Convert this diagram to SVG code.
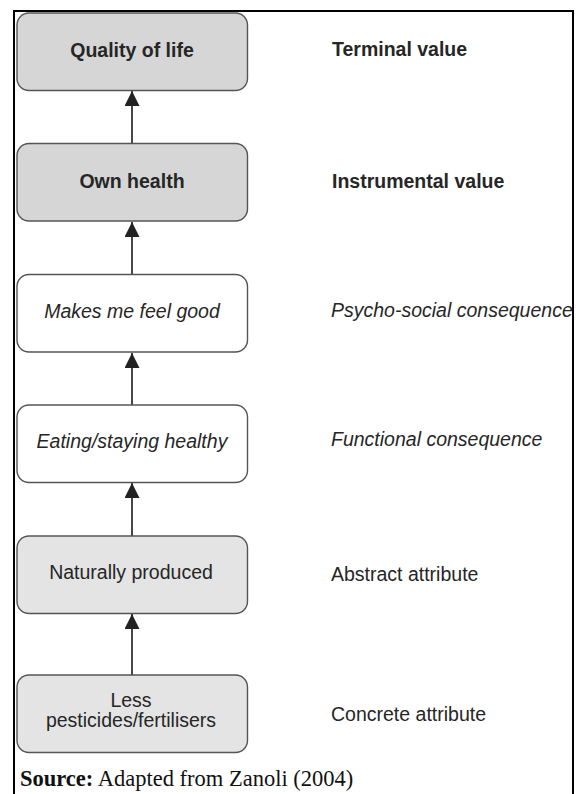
<svg xmlns="http://www.w3.org/2000/svg" width="576" height="794" viewBox="0 0 576 794">
  <style>
    .frame { fill: none; stroke: #000; stroke-width: 2; }
    .box { stroke: #555; stroke-width: 1.4; }
    .dark { fill: #d6d6d6; }
    .light { fill: #e4e4e4; }
    .white { fill: #fff; }
    .lbl { font-family: "Liberation Sans", Arial, sans-serif; font-size: 19.5px; fill: #262626; }
    .mid { text-anchor: middle; }
    .b { font-weight: bold; }
    .i { font-style: italic; }
    .edge { stroke: #333; stroke-width: 1.8; fill: none; marker-end: url(#head); }
    .src { font-family: "Liberation Serif", "Times New Roman", serif; font-size: 22.5px; fill: #111; }
  </style>
  <defs>
    <marker id="head" markerUnits="userSpaceOnUse" markerWidth="16" markerHeight="15" refX="15" refY="7.5" orient="auto">
      <path d="M0,0 L15,7.5 L0,15 Z" fill="#222"/>
    </marker>
  </defs>

  <rect width="576" height="794" fill="#fff"/>
  <!-- page frame -->
  <path class="frame" d="M14,794 V11 H573 V794"/>

  <!-- connectors -->
  <g id="connectors">
    <line class="edge" x1="132" y1="143" x2="132" y2="91"/>
    <line class="edge" x1="132" y1="274" x2="132" y2="222"/>
    <line class="edge" x1="132" y1="405" x2="132" y2="353"/>
    <line class="edge" x1="132" y1="536" x2="132" y2="483"/>
    <line class="edge" x1="132" y1="676" x2="132" y2="614"/>
  </g>

  <g id="quality-of-life">
    <rect class="box dark" x="17" y="13" width="230.5" height="77.5" rx="12"/>
    <text class="lbl b mid" x="132" y="57">Quality of life</text>
  </g>
  <g id="own-health">
    <rect class="box dark" x="17" y="143.5" width="230.5" height="77.5" rx="12"/>
    <text class="lbl b mid" x="132" y="188">Own health</text>
  </g>
  <g id="feel-good">
    <rect class="box white" x="17" y="274.5" width="230.5" height="77.5" rx="12"/>
    <text class="lbl i mid" x="132" y="318">Makes me feel good</text>
  </g>
  <g id="eating-healthy">
    <rect class="box white" x="17" y="405" width="230.5" height="77.5" rx="12"/>
    <text class="lbl i mid" x="132" y="448">Eating/staying healthy</text>
  </g>
  <g id="naturally-produced">
    <rect class="box light" x="17" y="536" width="230.5" height="77.5" rx="12"/>
    <text class="lbl mid" x="131" y="579">Naturally produced</text>
  </g>
  <g id="less-pesticides">
    <rect class="box light" x="17" y="675" width="230.5" height="77.5" rx="12"/>
    <text class="lbl mid" x="131" y="707">Less</text>
    <text class="lbl mid" x="131" y="727">pesticides/fertilisers</text>
  </g>

  <!-- level labels -->
  <g id="levels">
    <text class="lbl b" x="332" y="56">Terminal value</text>
    <text class="lbl b" x="332" y="188">Instrumental value</text>
    <text class="lbl i" x="331" y="317">Psycho-social consequence</text>
    <text class="lbl i" x="331" y="446">Functional consequence</text>
    <text class="lbl" x="331" y="581">Abstract attribute</text>
    <text class="lbl" x="331" y="721">Concrete attribute</text>
  </g>

  <text class="src" x="20" y="786"><tspan font-weight="bold">Source:</tspan> Adapted from Zanoli (2004)</text>
</svg>
